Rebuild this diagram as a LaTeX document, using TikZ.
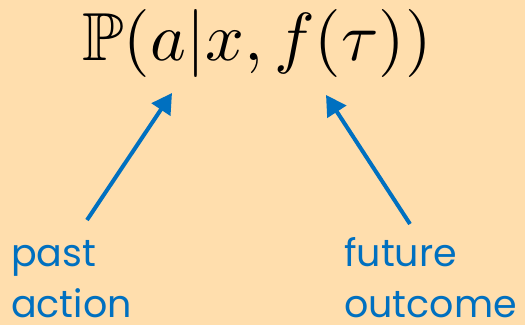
\documentclass[tikz,border=0pt]{standalone}
\usepackage{fontspec}
\usepackage{graphicx}
\usepackage{amsmath,amssymb}
\usetikzlibrary{arrows.meta, positioning}
\newfontfamily\labelfont{Poppins}
\definecolor{peachbg}{RGB}{255, 222, 173}
\definecolor{arrowblue}{RGB}{0, 112, 192}

\begin{document}
\begin{tikzpicture}[x=1pt, y=-1pt]
  % background and page size
  \fill[peachbg] (0,0) rectangle (525,325);
  \useasboundingbox (0,0) rectangle (525,325);

  % formula
  \node[anchor=base, inner sep=0pt] (formula) at (257,60) {\scalebox{6.8}{$\mathbb{P}(a|x, f(\tau))$}};

  % labels (base anchor sits on the last line)
  \node[anchor=base west, inner sep=0pt, align=left, arrowblue, font=\labelfont\fontsize{38}{51}\selectfont] (past) at (11,317) {past\\action};
  \node[anchor=base west, inner sep=0pt, align=left, arrowblue, font=\labelfont\fontsize{38}{51}\selectfont] (future) at (344,317) {future\\outcome};

  % arrow ends
  \coordinate (pastTail) at (87,220);
  \coordinate (aTip) at (172,93);
  \coordinate (futureTail) at (410,224);
  \coordinate (tauTip) at (326,95);

  \draw[arrowblue, line width=4pt, -{Triangle[length=20pt, width=22pt]}] (pastTail) -- (aTip);
  \draw[arrowblue, line width=4pt, -{Triangle[length=20pt, width=22pt]}] (futureTail) -- (tauTip);
\end{tikzpicture}
\end{document}
